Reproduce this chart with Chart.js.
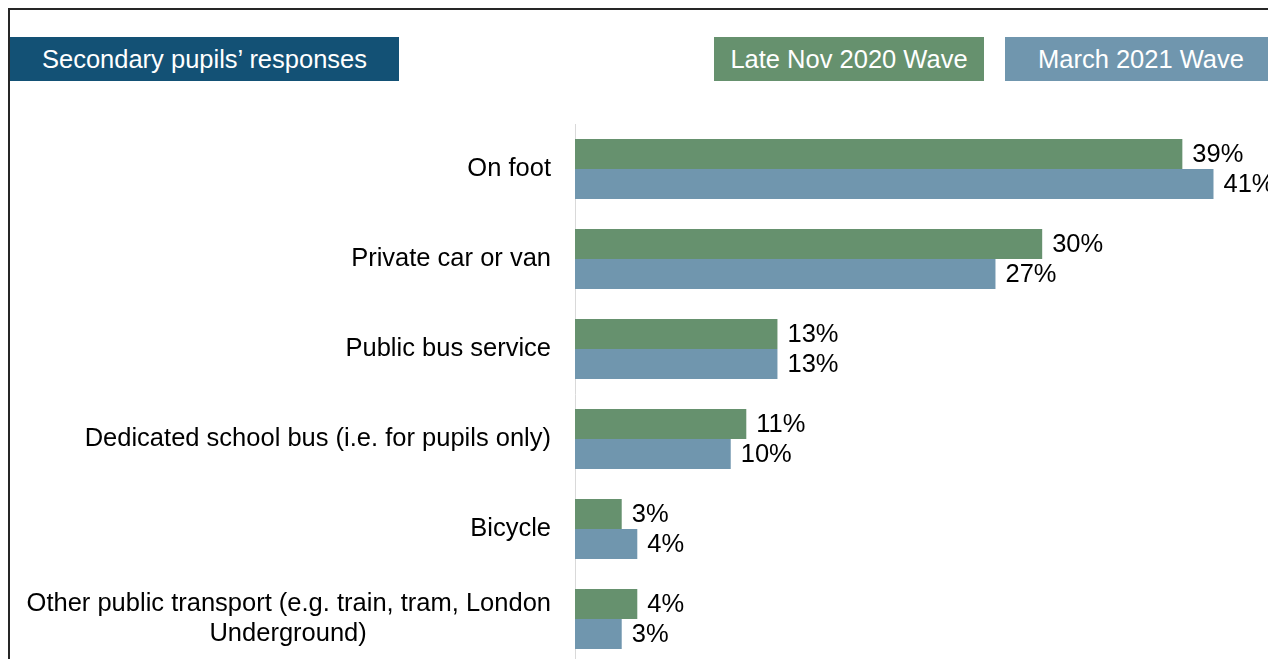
<!DOCTYPE html>
<html>
<head>
<meta charset="utf-8">
<script src="https://cdn.jsdelivr.net/npm/chart.js@4/dist/chart.umd.min.js"></script>
<style>
  body { margin: 0; background: #fff; overflow: hidden; font-family: "Liberation Sans", Arial, sans-serif; }
  #wrap { position: relative; width: 1268px; height: 659px; overflow: hidden; }
  #frame { position: absolute; left: 8px; top: 8px; width: 1400px; height: 800px; border-left: 2px solid #262626; border-top: 2px solid #262626; }
  .box { position: absolute; top: 37px; height: 44px; line-height: 44px; color: #fff; font-size: 25.5px; text-align: center; white-space: nowrap; }
  #chartCanvas { position: absolute; left: 0; top: 0; }
</style>
</head>
<body>
<div id="wrap">
  <div id="frame"></div>
  <div class="box" id="title" style="left:10px; width:389px; background:#135175;">Secondary pupils’ responses</div>
  <div id="legend"></div>
  <canvas id="chartCanvas" width="1268" height="700"></canvas>
</div>
<script>
const categories = [
    'On foot',
    'Private car or van',
    'Public bus service',
    'Dedicated school bus (i.e. for pupils only)',
    'Bicycle',
    ['Other public transport (e.g. train, tram, London', 'Underground)']
];
const seriesNames = ['Late Nov 2020 Wave', 'March 2021 Wave'];
const nov2020 = [39, 30, 13, 11, 3, 4];
const mar2021 = [41, 27, 13, 10, 4, 3];
const colors = ['#66916e', '#7096ae'];

const FONT = '"Liberation Sans", Arial, sans-serif';
const FONT_SIZE = 25.5;

// legend boxes
const legendPos = [{ left: 714, width: 270 }, { left: 1005, width: 272 }];
const legend = document.getElementById('legend');
seriesNames.forEach((name, i) => {
    const d = document.createElement('div');
    d.className = 'box';
    d.style.left = legendPos[i].left + 'px';
    d.style.width = legendPos[i].width + 'px';
    d.style.background = colors[i];
    d.textContent = name;
    legend.appendChild(d);
});

// center shorter lines of a wrapped label under the longest one
const measureCtx = document.createElement('canvas').getContext('2d');
measureCtx.font = FONT_SIZE + 'px ' + FONT;
const centerLines = (label) => {
    if (!Array.isArray(label)) return label;
    const widths = label.map(l => measureCtx.measureText(l).width);
    const maxW = Math.max(...widths);
    const spaceW = measureCtx.measureText(' ').width;
    return label.map((l, i) => l + ' '.repeat(Math.round((maxW - widths[i]) / 2 / spaceW)));
};

const valueLabels = {
    id: 'valueLabels',
    afterDatasetsDraw(chart) {
        const ctx = chart.ctx;
        ctx.save();
        ctx.font = FONT_SIZE + 'px ' + FONT;
        ctx.fillStyle = '#000';
        ctx.textAlign = 'left';
        ctx.textBaseline = 'middle';
        chart.data.datasets.forEach((ds, i) => {
            chart.getDatasetMeta(i).data.forEach((bar, j) => {
                ctx.fillText(ds.data[j] + '%', bar.x + 10, bar.y + 1);
            });
        });
        ctx.restore();
    }
};

new Chart(document.getElementById('chartCanvas'), {
    type: 'bar',
    data: {
        labels: categories,
        datasets: [
            { label: seriesNames[0], data: nov2020, backgroundColor: colors[0] },
            { label: seriesNames[1], data: mar2021, backgroundColor: colors[1] }
        ]
    },
    options: {
        indexAxis: 'y',
        responsive: false,
        animation: false,
        devicePixelRatio: 1,
        categoryPercentage: 0.667,
        barPercentage: 1,
        layout: { padding: { top: 124, bottom: 36, left: 0, right: 0 } },
        plugins: { legend: { display: false }, tooltip: { enabled: false } },
        scales: {
            x: { display: false, min: 0, max: 44.5 },
            y: {
                grid: { display: false },
                border: { display: true, color: '#d9d9d9', width: 1 },
                afterFit: (scale) => { scale.width = 575; },
                ticks: {
                    padding: 16,
                    color: '#000',
                    font: { family: FONT, size: FONT_SIZE, lineHeight: 1.15 },
                    callback: function (value) { return centerLines(this.getLabelForValue(value)); }
                }
            }
        }
    },
    plugins: [valueLabels]
});
</script>
</body>
</html>
